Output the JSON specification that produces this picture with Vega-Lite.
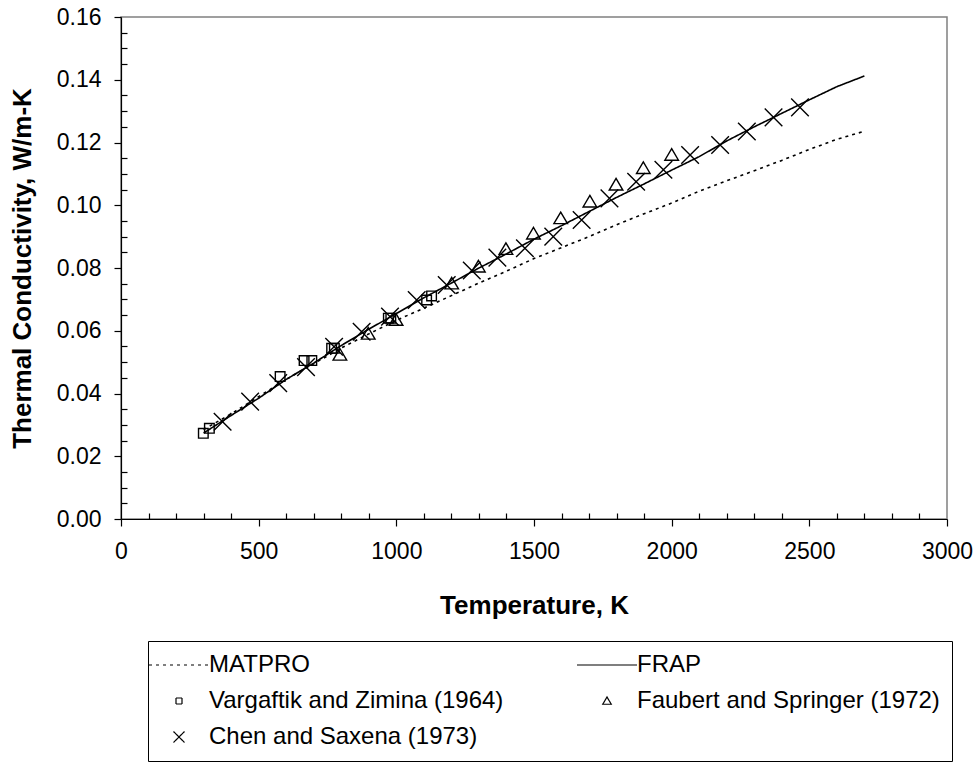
{
  "$schema": "https://vega.github.io/schema/vega-lite/v6.json",
  "width": 826,
  "height": 502,
  "autosize": {"type": "none"},
  "padding": {"left": 121, "top": 17, "right": 32, "bottom": 252},
  "background": "white",
  "config": {
    "view": {"stroke": "#808080", "strokeWidth": 1.5},
    "font": "Liberation Sans",
    "axis": {
      "domainColor": "black",
      "tickColor": "black",
      "labelColor": "black",
      "titleColor": "black",
      "labelFont": "Liberation Sans",
      "titleFont": "Liberation Sans",
      "labelFontSize": 23,
      "titleFontSize": 26,
      "titleFontWeight": "bold",
      "grid": false,
      "domainWidth": 1.2,
      "tickWidth": 1.2
    }
  },
  "datasets": {
    "curves": [
      {"series": "MATPRO", "T": 300, "k": 0.0285},
      {"series": "MATPRO", "T": 400, "k": 0.0335},
      {"series": "MATPRO", "T": 500, "k": 0.039},
      {"series": "MATPRO", "T": 600, "k": 0.0445},
      {"series": "MATPRO", "T": 700, "k": 0.0495},
      {"series": "MATPRO", "T": 800, "k": 0.0545},
      {"series": "MATPRO", "T": 900, "k": 0.059},
      {"series": "MATPRO", "T": 1000, "k": 0.0633},
      {"series": "MATPRO", "T": 1100, "k": 0.0672},
      {"series": "MATPRO", "T": 1200, "k": 0.0712},
      {"series": "MATPRO", "T": 1300, "k": 0.0752},
      {"series": "MATPRO", "T": 1400, "k": 0.079},
      {"series": "MATPRO", "T": 1500, "k": 0.083},
      {"series": "MATPRO", "T": 1600, "k": 0.0865},
      {"series": "MATPRO", "T": 1700, "k": 0.09},
      {"series": "MATPRO", "T": 1800, "k": 0.0938},
      {"series": "MATPRO", "T": 1900, "k": 0.0973},
      {"series": "MATPRO", "T": 2000, "k": 0.1007},
      {"series": "MATPRO", "T": 2100, "k": 0.1045},
      {"series": "MATPRO", "T": 2200, "k": 0.1078},
      {"series": "MATPRO", "T": 2300, "k": 0.111},
      {"series": "MATPRO", "T": 2400, "k": 0.1143},
      {"series": "MATPRO", "T": 2500, "k": 0.1178},
      {"series": "MATPRO", "T": 2600, "k": 0.121},
      {"series": "MATPRO", "T": 2700, "k": 0.1236},
      {"series": "FRAP", "T": 300, "k": 0.0274},
      {"series": "FRAP", "T": 400, "k": 0.033},
      {"series": "FRAP", "T": 500, "k": 0.0385},
      {"series": "FRAP", "T": 600, "k": 0.0445},
      {"series": "FRAP", "T": 700, "k": 0.0497},
      {"series": "FRAP", "T": 800, "k": 0.0553},
      {"series": "FRAP", "T": 900, "k": 0.0605},
      {"series": "FRAP", "T": 1000, "k": 0.0655},
      {"series": "FRAP", "T": 1100, "k": 0.0705},
      {"series": "FRAP", "T": 1200, "k": 0.0752},
      {"series": "FRAP", "T": 1300, "k": 0.08},
      {"series": "FRAP", "T": 1400, "k": 0.0845},
      {"series": "FRAP", "T": 1500, "k": 0.0892},
      {"series": "FRAP", "T": 1600, "k": 0.0935},
      {"series": "FRAP", "T": 1700, "k": 0.098},
      {"series": "FRAP", "T": 1800, "k": 0.1025},
      {"series": "FRAP", "T": 1900, "k": 0.1068},
      {"series": "FRAP", "T": 2000, "k": 0.1112},
      {"series": "FRAP", "T": 2100, "k": 0.1155},
      {"series": "FRAP", "T": 2200, "k": 0.1205},
      {"series": "FRAP", "T": 2300, "k": 0.125},
      {"series": "FRAP", "T": 2400, "k": 0.1293},
      {"series": "FRAP", "T": 2500, "k": 0.1336},
      {"series": "FRAP", "T": 2600, "k": 0.1378},
      {"series": "FRAP", "T": 2700, "k": 0.1412}
    ],
    "points": [
      {"series": "Vargaftik and Zimina (1964)", "T": 299, "k": 0.0273},
      {"series": "Vargaftik and Zimina (1964)", "T": 321, "k": 0.0289},
      {"series": "Vargaftik and Zimina (1964)", "T": 578, "k": 0.0454},
      {"series": "Vargaftik and Zimina (1964)", "T": 665, "k": 0.0505},
      {"series": "Vargaftik and Zimina (1964)", "T": 693, "k": 0.0505},
      {"series": "Vargaftik and Zimina (1964)", "T": 765, "k": 0.0544},
      {"series": "Vargaftik and Zimina (1964)", "T": 775, "k": 0.0544},
      {"series": "Vargaftik and Zimina (1964)", "T": 971, "k": 0.064},
      {"series": "Vargaftik and Zimina (1964)", "T": 980, "k": 0.064},
      {"series": "Vargaftik and Zimina (1964)", "T": 1110, "k": 0.0698},
      {"series": "Vargaftik and Zimina (1964)", "T": 1128, "k": 0.0711},
      {"series": "Faubert and Springer (1972)", "T": 795, "k": 0.0523},
      {"series": "Faubert and Springer (1972)", "T": 898, "k": 0.059},
      {"series": "Faubert and Springer (1972)", "T": 999, "k": 0.0634},
      {"series": "Faubert and Springer (1972)", "T": 1201, "k": 0.075},
      {"series": "Faubert and Springer (1972)", "T": 1298, "k": 0.0804},
      {"series": "Faubert and Springer (1972)", "T": 1398, "k": 0.086},
      {"series": "Faubert and Springer (1972)", "T": 1498, "k": 0.0909},
      {"series": "Faubert and Springer (1972)", "T": 1597, "k": 0.0958},
      {"series": "Faubert and Springer (1972)", "T": 1703, "k": 0.1011},
      {"series": "Faubert and Springer (1972)", "T": 1798, "k": 0.1065},
      {"series": "Faubert and Springer (1972)", "T": 1897, "k": 0.1118},
      {"series": "Faubert and Springer (1972)", "T": 2000, "k": 0.116},
      {"series": "Chen and Saxena (1973)", "T": 369, "k": 0.031},
      {"series": "Chen and Saxena (1973)", "T": 469, "k": 0.0374},
      {"series": "Chen and Saxena (1973)", "T": 571, "k": 0.0433},
      {"series": "Chen and Saxena (1973)", "T": 672, "k": 0.0484},
      {"series": "Chen and Saxena (1973)", "T": 774, "k": 0.0549},
      {"series": "Chen and Saxena (1973)", "T": 874, "k": 0.0597},
      {"series": "Chen and Saxena (1973)", "T": 977, "k": 0.0645},
      {"series": "Chen and Saxena (1973)", "T": 1074, "k": 0.0698},
      {"series": "Chen and Saxena (1973)", "T": 1183, "k": 0.0746},
      {"series": "Chen and Saxena (1973)", "T": 1274, "k": 0.0792},
      {"series": "Chen and Saxena (1973)", "T": 1367, "k": 0.0833},
      {"series": "Chen and Saxena (1973)", "T": 1467, "k": 0.0863},
      {"series": "Chen and Saxena (1973)", "T": 1570, "k": 0.09},
      {"series": "Chen and Saxena (1973)", "T": 1673, "k": 0.0953},
      {"series": "Chen and Saxena (1973)", "T": 1774, "k": 0.1022},
      {"series": "Chen and Saxena (1973)", "T": 1871, "k": 0.1075},
      {"series": "Chen and Saxena (1973)", "T": 1970, "k": 0.1113},
      {"series": "Chen and Saxena (1973)", "T": 2067, "k": 0.116},
      {"series": "Chen and Saxena (1973)", "T": 2176, "k": 0.1192},
      {"series": "Chen and Saxena (1973)", "T": 2273, "k": 0.1235},
      {"series": "Chen and Saxena (1973)", "T": 2370, "k": 0.128},
      {"series": "Chen and Saxena (1973)", "T": 2466, "k": 0.1312}
    ]
  },
  "resolve": {"scale": {"x": "independent", "y": "independent"}},
  "layer": [
    {
      "data": {"name": "curves"},
      "mark": {"type": "line", "color": "black", "strokeWidth": 1.6},
      "encoding": {
        "x": {
          "field": "T", "type": "quantitative",
          "scale": {"domain": [0, 3000], "nice": false, "zero": false},
          "axis": {"orient": "bottom", "values": [0, 500, 1000, 1500, 2000, 2500, 3000], "format": "d", "tickSize": 7, "labelPadding": 14, "title": "Temperature, K", "titlePadding": 29, "labelFlush": false}
        },
        "y": {
          "field": "k", "type": "quantitative",
          "scale": {"domain": [0, 0.16], "nice": false, "zero": false},
          "axis": {"orient": "left", "values": [0, 0.02, 0.04, 0.06, 0.08, 0.1, 0.12, 0.14, 0.16], "format": ".2f", "tickSize": 7, "labelPadding": 13, "title": "Thermal Conductivity, W/m-K", "titlePadding": 21, "labelFlush": false}
        },
        "strokeDash": {
          "field": "series", "type": "nominal",
          "scale": {
            "domain": ["MATPRO", "FRAP", "Vargaftik and Zimina (1964)", "Faubert and Springer (1972)", "Chen and Saxena (1973)"],
            "range": [[3, 4], [1, 0], [1, 0], [1, 0], [1, 0]]
          },
          "legend": {
            "title": null,
            "orient": "none",
            "legendX": 27,
            "legendY": 624,
            "columns": 2,
            "direction": "horizontal",
            "strokeColor": "black",
            "fillColor": "white",
            "padding": 12,
            "labelFont": "Liberation Sans",
            "labelFontSize": 24,
            "labelColor": "black",
            "labelLimit": 400,
            "symbolSize": 100,
            "symbolStrokeColor": "black",
            "symbolFillColor": "transparent",
            "symbolStrokeWidth": 1.2,
            "symbolOffset": 7,
            "labelOffset": 18,
            "rowPadding": 12,
            "columnPadding": 70
          }
        },
        "detail": {"field": "series", "type": "nominal"}
      }
    },
    {
      "data": {"name": "points"},
      "mark": {"type": "point", "filled": false, "stroke": "black", "strokeWidth": 1.4, "size": 256, "opacity": 1},
      "encoding": {
        "x": {"field": "T", "type": "quantitative", "scale": {"domain": [0, 3000], "nice": false, "zero": false}, "axis": null},
        "y": {"field": "k", "type": "quantitative", "scale": {"domain": [0, 0.16], "nice": false, "zero": false}, "axis": null},
        "shape": {
          "field": "series", "type": "nominal",
          "scale": {
            "domain": ["MATPRO", "FRAP", "Vargaftik and Zimina (1964)", "Faubert and Springer (1972)", "Chen and Saxena (1973)"],
            "range": ["M-6,0H6", "M-6,0H6", "M-0.6,-0.6H0.6V0.6H-0.6Z", "M0,-0.8L0.85,0.65H-0.85Z", "M-1.1,-1.1L1.1,1.1M1.1,-1.1L-1.1,1.1"]
          },
          "legend": {
            "title": null,
            "orient": "none",
            "legendX": 27,
            "legendY": 624,
            "columns": 2,
            "direction": "horizontal",
            "strokeColor": "black",
            "fillColor": "white",
            "padding": 12,
            "labelFont": "Liberation Sans",
            "labelFontSize": 24,
            "labelColor": "black",
            "labelLimit": 400,
            "symbolSize": 100,
            "symbolStrokeColor": "black",
            "symbolFillColor": "transparent",
            "symbolStrokeWidth": 1.2,
            "symbolOffset": 7,
            "labelOffset": 18,
            "rowPadding": 12,
            "columnPadding": 70
          }
        }
      }
    },
    {
      "data": {"name": "points"},
      "mark": {"type": "point", "opacity": 0},
      "encoding": {
        "x": {
          "field": "T", "type": "quantitative",
          "scale": {"domain": [0, 3000], "nice": false, "zero": false},
          "axis": {"orient": "bottom", "values": [100, 200, 300, 400, 600, 700, 800, 900, 1100, 1200, 1300, 1400, 1600, 1700, 1800, 1900, 2100, 2200, 2300, 2400, 2600, 2700, 2800, 2900], "tickSize": -6, "labels": false, "domain": false, "title": null}
        },
        "y": {
          "field": "k", "type": "quantitative",
          "scale": {"domain": [0, 0.16], "nice": false, "zero": false},
          "axis": {"orient": "left", "values": [0.005, 0.01, 0.015, 0.025, 0.03, 0.035, 0.045, 0.05, 0.055, 0.065, 0.07, 0.075, 0.085, 0.09, 0.095, 0.105, 0.11, 0.115, 0.125, 0.13, 0.135, 0.145, 0.15, 0.155], "tickSize": -6, "labels": false, "domain": false, "title": null}
        }
      }
    }
  ]
}
